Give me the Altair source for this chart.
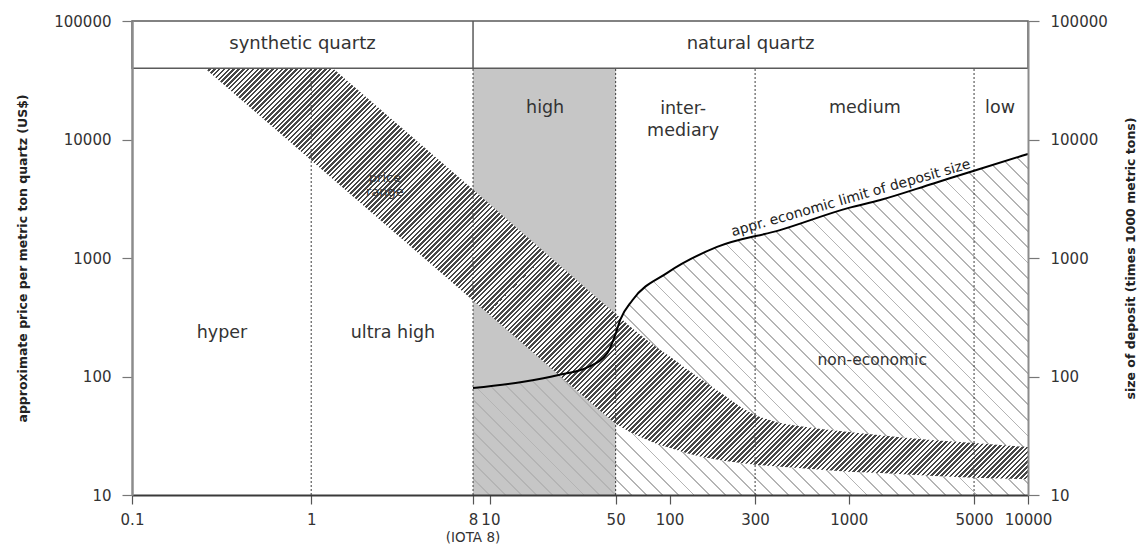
import math
import altair as alt
import pandas as pd

# ---------------- data ----------------
x_ticks = [0.1, 1, 8, 10, 50, 100, 300, 1000, 5000, 10000]
y_ticks = [10, 100, 1000, 10000, 100000]

# price range band (US$ per metric ton) vs. quality (x)
band_x = [0.255, 1.32, 8, 40, 50, 60, 70, 85, 100, 125, 150, 200, 250, 300, 400, 500, 700,
          1000, 1500, 2000, 3000, 5000, 7000, 10000]
band_upper = [40000, 40000, 3780, 450, 338, 266, 220, 175, 148, 115, 95, 70, 55, 47, 41, 38.5, 36,
              34, 32, 30.5, 29, 27.5, 26.4, 25.4]
band_lower = [40000, 4640, 438, 53, 40, 34, 30.5, 27, 25, 22.5, 21, 19.5, 18.6, 18, 17.4, 17, 16.3,
              15.7, 15.3, 15, 14.5, 14, 13.8, 13.6]

# approximate economic limit of deposit size
limit_x = [8, 15, 24, 35, 45, 50, 53, 62, 97, 184, 413, 1000, 1500, 3000, 5000, 10000]
limit_y = [80, 90, 103, 120, 158, 230, 300, 440, 750, 1240, 1720, 2650, 3085, 4280, 5450, 7550]

zone_dividers = [1, 8, 50, 300, 5000]
high_zone = [8, 50]
header_bottom = 40000
header_top = 100000
axis_floor = 10

header_texts = ["synthetic quartz", "natural quartz"]
header_x = [0.894, 283]
header_y = [64000, 64000]

cat_texts = ["hyper", "ultra high", "high", "inter-\nmediary", "medium", "low"]
cat_x = [0.318, 2.86, 20.2, 119, 1230, 6980]
cat_y = [233, 233, 18450, 18090, 18450, 18450]

# ---------------- layout ----------------
W, H = 896, 474
FONT = "DejaVu Sans"
xs = alt.Scale(type="log", domain=[0.1, 10000], nice=False)
ys = alt.Scale(type="log", domain=[10, 100000], nice=False)


def px_x(v):
    return (math.log10(v) + 1) * W / 5


def px_y(v):
    return (5 - math.log10(v)) * H / 4


def hatch(w, h, period, frac, c_line, c_gap, direction):
    r = h / w
    k = (1 + r) / (1 + r * r)
    d = (w + h) / math.sqrt(2)
    n = int(d / period)
    stops = []
    for i in range(n):
        a = round(i / n, 6)
        b = round((i + frac) / n, 6)
        c = round((i + 1) / n, 6)
        stops += [
            {"offset": a, "color": c_line},
            {"offset": b, "color": c_line},
            {"offset": b, "color": c_gap},
            {"offset": c, "color": c_gap},
        ]
    if direction == "/":
        return {"gradient": "linear", "x1": 0, "y1": 0, "x2": k, "y2": k * r, "stops": stops}
    return {"gradient": "linear", "x1": 0, "y1": 1, "x2": k, "y2": 1 - k * r, "stops": stops}


band_w = px_x(max(band_x)) - px_x(min(band_x))
band_h = px_y(min(band_lower)) - px_y(max(band_upper))
band_fill = hatch(band_w, band_h, 3.4, 0.52, "#474747", "#ffffff", "/")

ne_w = px_x(max(limit_x)) - px_x(min(limit_x))
ne_h = px_y(axis_floor) - px_y(max(limit_y))
ne_fill = hatch(ne_w, ne_h, 11, 0.12, "#b4b4b4", "rgba(255,255,255,0)", "\\")

band_df = pd.DataFrame({"x": band_x, "upper": band_upper, "lower": band_lower})
limit_df = pd.DataFrame({"x": limit_x, "y": limit_y, "floor": [axis_floor] * len(limit_x)})
div_df = pd.DataFrame({"x": zone_dividers, "y": [axis_floor] * len(zone_dividers),
                       "y2": [header_bottom] * len(zone_dividers)})
high_df = pd.DataFrame({"x": [high_zone[0]], "x2": [high_zone[1]], "y": [axis_floor], "y2": [header_bottom]})
head_df = pd.DataFrame({"x": [0.1], "x2": [10000], "y": [header_bottom], "y2": [header_top]})
head_div_df = pd.DataFrame({"x": [8], "y": [header_bottom], "y2": [header_top]})
head_txt_df = pd.DataFrame({"t": header_texts, "x": header_x, "y": header_y})
cat_df = pd.DataFrame({"t": cat_texts, "x": cat_x, "y": cat_y})
price_df = pd.DataFrame({"t": ["price\nrange"], "x": [2.58], "y": [4700]})
ne_txt_df = pd.DataFrame({"t": ["non-economic"], "x": [1350], "y": [138]})
lim_txt_df = pd.DataFrame({"t": ["appr. economic limit of deposit size"], "x": [1054], "y": [2800]})
iota_df = pd.DataFrame({"t": ["(IOTA 8)"], "x": [8]})

XN = alt.X("x:Q", scale=xs, axis=None)

x_axis = alt.Axis(values=x_ticks, format="~g", title=None, labelFont=FONT, labelFontSize=15,
                  labelColor="#333333", tickSize=9, tickColor="#555555", tickWidth=1.2,
                  domainColor="#3a3a3a", domainWidth=2, labelPadding=8, labelOverlap=False,
                  labelFlush=False, grid=False, zindex=2)
y_left = alt.Axis(values=y_ticks, format="d", orient="left",
                  title="approximate price per metric ton quartz (US$)",
                  labelFont=FONT, labelFontSize=15, labelColor="#333333", tickSize=10,
                  tickColor="#777777", tickWidth=1.2, domainColor="#8c8c8c", domainWidth=2.5,
                  labelPadding=11, grid=False, titleFont=FONT, titleFontSize=12.5,
                  titleFontWeight="bold", titleColor="#222222", titlePadding=24, zindex=2)
y_right = alt.Axis(values=y_ticks, format="d", orient="right",
                   title="size of deposit (times 1000 metric tons)",
                   labelFont=FONT, labelFontSize=15, labelColor="#333333", tickSize=11,
                   tickColor="#777777", tickWidth=1.2, domainColor="#8c8c8c", domainWidth=2,
                   labelPadding=11, grid=False, titleFont=FONT, titleFontSize=12.5,
                   titleFontWeight="bold", titleColor="#222222", titlePadding=17,
                   titleAngle=270, titleBaseline="top", zindex=2)

high = alt.Chart(high_df).mark_rect(fill="#c6c6c6").encode(
    x=XN, x2="x2:Q", y=alt.Y("y:Q", scale=ys, axis=None), y2="y2:Q")

noneco = alt.Chart(limit_df).mark_area(fill=ne_fill, interpolate="monotone").encode(
    x=XN, y=alt.Y("y:Q", scale=ys, axis=None), y2="floor:Q")

band = alt.Chart(band_df).mark_area(fill=band_fill, interpolate="linear").encode(
    x=XN, y=alt.Y("upper:Q", scale=ys, axis=None), y2="lower:Q")

dividers = alt.Chart(div_df).mark_rule(color="#3c3c3c", strokeWidth=1, strokeDash=[2, 2]).encode(
    x=XN, y=alt.Y("y:Q", scale=ys, axis=y_right), y2="y2:Q")

limit = alt.Chart(limit_df).mark_line(color="#000000", strokeWidth=2, interpolate="monotone").encode(
    x=alt.X("x:Q", scale=xs, axis=x_axis), y=alt.Y("y:Q", scale=ys, axis=y_left))

header = alt.Chart(head_df).mark_rect(fill="#ffffff", stroke="#5a5a5a", strokeWidth=1.5).encode(
    x=XN, x2="x2:Q", y=alt.Y("y:Q", scale=ys, axis=None), y2="y2:Q")

header_div = alt.Chart(head_div_df).mark_rule(color="#5a5a5a", strokeWidth=1.5).encode(
    x=XN, y=alt.Y("y:Q", scale=ys, axis=None), y2="y2:Q")

head_txt = alt.Chart(head_txt_df).mark_text(font=FONT, fontSize=18, color="#333333").encode(
    x=XN, y=alt.Y("y:Q", scale=ys, axis=None), text="t:N")

cat_txt = alt.Chart(cat_df).mark_text(font=FONT, fontSize=17.5, color="#333333", lineBreak="\n",
                                      lineHeight=22).encode(
    x=XN, y=alt.Y("y:Q", scale=ys, axis=None), text="t:N")

price_txt = alt.Chart(price_df).mark_text(font=FONT, fontSize=13, color="#333333", lineBreak="\n",
                                          lineHeight=14).encode(
    x=XN, y=alt.Y("y:Q", scale=ys, axis=None), text="t:N")

ne_txt = alt.Chart(ne_txt_df).mark_text(font=FONT, fontSize=15.5, color="#333333").encode(
    x=XN, y=alt.Y("y:Q", scale=ys, axis=None), text="t:N")

lim_txt = alt.Chart(lim_txt_df).mark_text(font=FONT, fontSize=14, color="#222222", angle=344,
                                          baseline="bottom").encode(
    x=XN, y=alt.Y("y:Q", scale=ys, axis=None), text="t:N")

iota_txt = alt.Chart(iota_df).mark_text(font=FONT, fontSize=13.5, color="#333333", baseline="middle").encode(
    x=XN, y=alt.value(H + 43), text="t:N")

chart = alt.layer(
    high, noneco, band, dividers, limit, header, header_div,
    head_txt, cat_txt, price_txt, ne_txt, lim_txt, iota_txt
).resolve_axis(x="independent", y="independent").properties(
    width=W, height=H,
    padding={"left": 124, "top": 13, "right": 112, "bottom": 53},
    autosize=alt.AutoSizeParams(type="none"),
).configure_view(stroke=None).configure(font=FONT)

chart.save("out.html", embed_options={"renderer": "svg", "actions": False})
